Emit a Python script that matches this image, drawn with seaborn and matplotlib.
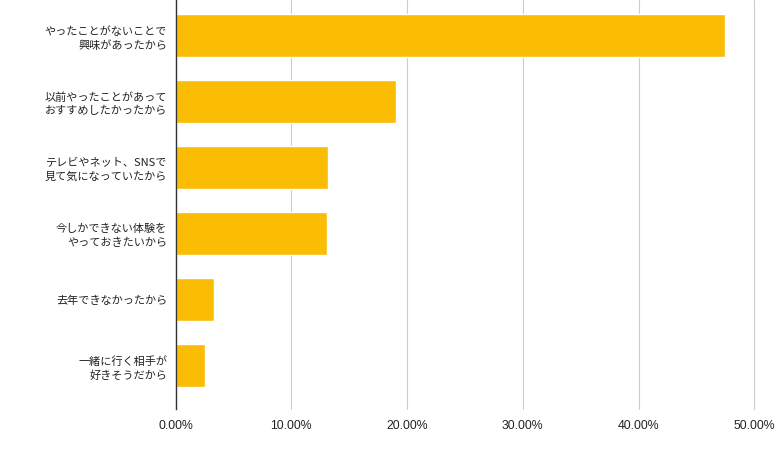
import matplotlib
matplotlib.use("Agg")
import matplotlib.pyplot as plt
import seaborn as sns
import pandas as pd
from matplotlib.ticker import FuncFormatter, FixedLocator

categories = [
    "やったことがないことで\n興味があったから",
    "以前やったことがあって\nおすすめしたかったから",
    "テレビやネット、SNSで\n見て気になっていたから",
    "今しかできない体験を\nやっておきたいから",
    "去年できなかったから",
    "一緒に行く相手が\n好きそうだから",
]
values = [0.4744, 0.1903, 0.1316, 0.1307, 0.0331, 0.0256]
ticks = [0.0, 0.1, 0.2, 0.3, 0.4, 0.5]

df = pd.DataFrame({"reason": categories, "share": values})

sns.set_theme(style="white")
plt.rcParams["font.family"] = ["Noto Sans CJK JP", "DejaVu Sans"]

fig = plt.figure(figsize=(7.78, 4.51), dpi=100)
ax = fig.add_axes([175.5 / 778, 1 - 409 / 451, (754.3 - 175.5) / 778, 409 / 451])

sns.barplot(data=df, x="share", y="reason", orient="h", color="#FBBC04",
            saturation=1, width=0.65, ax=ax, zorder=3)

ax.set_xlim(0, 0.5)
ax.set_ylim(5.66, -0.538)
ax.xaxis.set_major_locator(FixedLocator(ticks))
ax.xaxis.set_major_formatter(FuncFormatter(lambda v, p: f"{v*100:.2f}%"))
ax.grid(axis="x", color="#cccccc", linewidth=0.8, zorder=0)
for gl in ax.get_xgridlines():
    gl.set_clip_on(False)
ax.grid(axis="y", visible=False)
for s in ["top", "right", "bottom"]:
    ax.spines[s].set_visible(False)
ax.spines["left"].set_color("#333333")
ax.spines["left"].set_linewidth(1.0)
ax.spines["left"].set_zorder(4)
ax.set_xlabel("")
ax.set_ylabel("")
ax.tick_params(axis="x", length=0, pad=8, labelsize=8.8, labelcolor="#222222")
ax.tick_params(axis="y", length=0, pad=6, labelcolor="#222222")
for lab in ax.get_xticklabels():
    lab.set_family(["Liberation Sans", "DejaVu Sans"])
for lab in ax.get_yticklabels():
    lab.set_fontsize(8.0)
    lab.set_linespacing(1.4)

fig.savefig("out.png", dpi=100)
